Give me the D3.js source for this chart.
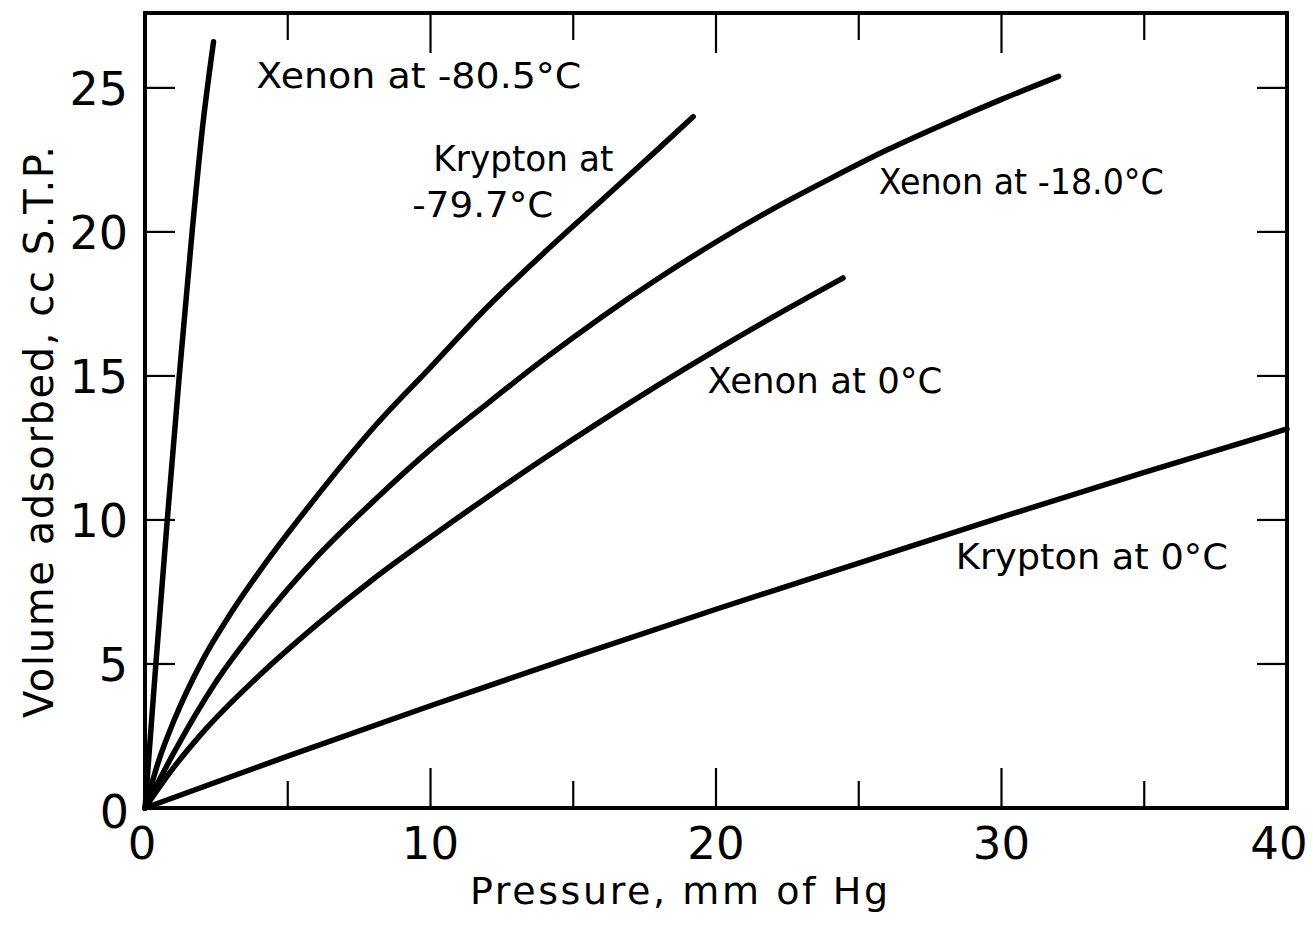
<!DOCTYPE html>
<html>
<head>
<meta charset="utf-8">
<script src="https://cdn.jsdelivr.net/npm/d3@7"></script>
<style>
  html, body { margin: 0; padding: 0; background: #fff; }
  svg { display: block; }
  text { font-family: "DejaVu Sans", sans-serif; fill: #000; }
</style>
</head>
<body>
<div id="app"></div>
<script>
// values (pressure mm Hg, volume cc S.T.P.)
var xenonM805 = [[0, 0], [0.38, 5], [0.78, 10], [1.2, 15], [1.65, 20], [2.0, 23.5], [2.4, 26.6]];
var kryptonM797 = [[0, 0], [0.5, 1.7], [1, 3.0], [2, 5.1], [3, 6.75], [4, 8.2], [6, 10.8], [8, 13.2], [10, 15.3],
  [12, 17.4], [14, 19.3], [16, 21.1], [18, 22.9], [19.2, 24.0]];
var xenonM180 = [[0, 0], [1, 1.9], [2.5, 4.4], [4, 6.4], [6, 8.7], [8, 10.65], [10, 12.45], [12, 14.05], [14, 15.6],
  [16, 17.05], [18, 18.4], [20, 19.65], [22, 20.8], [24, 21.85], [26, 22.85], [28, 23.75], [30, 24.6], [32, 25.4]];
var xenon0 = [[0, 0], [1, 1.4], [2, 2.6], [4, 4.6], [6, 6.35], [8, 7.95], [10, 9.4], [12, 10.8], [14, 12.15],
  [16, 13.45], [18, 14.7], [20, 15.9], [22, 17.05], [24.45, 18.4]];
var krypton0 = [[0, 0], [5, 1.8], [10, 3.55], [15, 5.25], [20, 6.9], [25, 8.5], [30, 10.1], [35, 11.65], [40, 13.16]];

var xTicks = [0, 10, 20, 30, 40];
var xMinor = [5, 10, 15, 20, 25, 30, 35];
var yTicks = [5, 10, 15, 20, 25];

var labels = [
  { lines: ['Xenon at -80.5°C'], p: 3.9, v: 25.0 },
  { lines: ['Krypton at', '-79.7°C'], p: 10.1, v: 22.1 },
  { lines: ['Xenon at -18.0°C'], p: 25.7, v: 21.3 },
  { lines: ['Xenon at 0°C'], p: 19.7, v: 14.4 },
  { lines: ['Krypton at 0°C'], p: 28.4, v: 8.3 }
];
// printed width of each label line, px
var labelWidths = [[325], [180, 141], [285], [235], [272]];

var W = 1313, H = 930;
var margin = { top: 13, right: 26, bottom: 122, left: 145 };

var x = d3.scaleLinear().domain([0, 40]).range([margin.left, W - margin.right]);
var y = d3.scaleLinear().domain([0, 27.6]).range([H - margin.bottom, margin.top]);

var svg = d3.select('#app').append('svg').attr('width', W).attr('height', H);

// curves
var line = d3.line()
  .x(function(d) { return x(d[0]); })
  .y(function(d) { return y(d[1]); })
  .curve(d3.curveMonotoneX);

svg.append('g').selectAll('path')
  .data([xenonM805, kryptonM797, xenonM180, xenon0, krypton0])
  .enter().append('path')
  .attr('d', line)
  .attr('fill', 'none')
  .attr('stroke', '#000')
  .attr('stroke-width', 5.5)
  .attr('stroke-linecap', 'round')
  .attr('stroke-linejoin', 'round');

// frame
var x0 = x.range()[0], x1 = x.range()[1], y0 = y.range()[0], y1 = y.range()[1];
svg.append('rect')
  .attr('x', x0).attr('y', y1)
  .attr('width', x1 - x0).attr('height', y0 - y1)
  .attr('fill', 'none').attr('stroke', '#000').attr('stroke-width', 4);

// inward ticks
var ticks = svg.append('g').attr('stroke', '#000').attr('stroke-width', 2.2);
xMinor.forEach(function(t) {
  var len = t % 10 === 0 ? 40 : 27;
  ticks.append('line').attr('x1', x(t)).attr('x2', x(t)).attr('y1', y0).attr('y2', y0 - len);
  ticks.append('line').attr('x1', x(t)).attr('x2', x(t)).attr('y1', y1).attr('y2', y1 + len);
});
yTicks.forEach(function(t) {
  ticks.append('line').attr('x1', x0).attr('x2', x0 + 30).attr('y1', y(t)).attr('y2', y(t));
  ticks.append('line').attr('x1', x1).attr('x2', x1 - 30).attr('y1', y(t)).attr('y2', y(t));
});

// tick labels
svg.append('g').selectAll('text')
  .data(xTicks).enter().append('text')
  .attr('x', function(d) { return x(d) - (d === 40 ? 8 : d === 0 ? 3 : 0); })
  .attr('y', y0 + 51)
  .attr('text-anchor', 'middle')
  .style('font-size', '45px')
  .text(function(d) { return d; });

svg.append('g').selectAll('text')
  .data([0].concat(yTicks)).enter().append('text')
  .attr('x', function(d) { return d === 0 ? x0 - 16 : x0 - 17; })
  .attr('y', function(d) { return y(d) + (d === 0 ? 20 : 17); })
  .attr('text-anchor', 'end')
  .style('font-size', '46px')
  .text(function(d) { return d; });

// axis titles
svg.append('text')
  .attr('x', 470)
  .attr('y', H - 26)
  .attr('textLength', 418)
  .attr('lengthAdjust', 'spacing')
  .style('font-size', '38px')
  .text('Pressure, mm of Hg');

svg.append('text')
  .attr('transform', 'translate(53,718) rotate(-90)')
  .attr('textLength', 572)
  .attr('lengthAdjust', 'spacing')
  .style('font-size', '40px')
  .text('Volume adsorbed, cc S.T.P.');

// curve labels
labels.forEach(function(l, k) {
  var t = svg.append('text')
    .attr('x', x(l.p))
    .attr('y', y(l.v))
    .style('font-size', '35px');
  l.lines.forEach(function(s, i) {
    t.append('tspan')
      .attr('x', x(l.p) - (i ? 21 : 0))
      .attr('dy', i ? 46 : 0)
      .attr('textLength', labelWidths[k][i])
      .attr('lengthAdjust', 'spacingAndGlyphs')
      .text(s);
  });
});
</script>
</body>
</html>
